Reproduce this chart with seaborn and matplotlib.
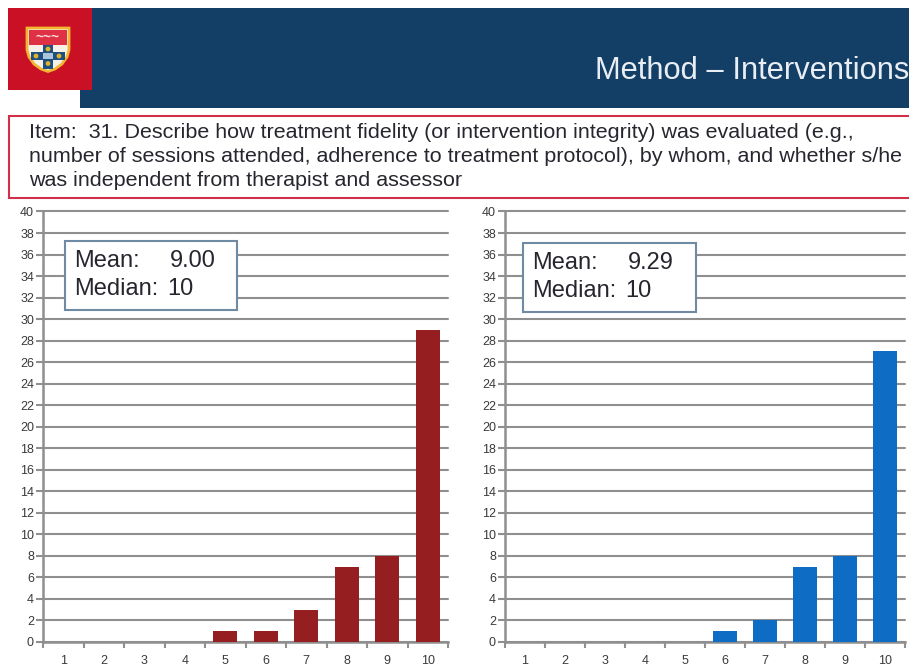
"""
Method - Interventions slide: two score histograms under a header banner
"""

import matplotlib
matplotlib.use('Agg')
import matplotlib.pyplot as plt
import pandas as pd
import seaborn as sns
from matplotlib.patches import Circle, Polygon, Rectangle

scores = [1, 2, 3, 4, 5, 6, 7, 8, 9, 10]
counts_left = [0, 0, 0, 0, 1, 1, 3, 7, 8, 29]
counts_right = [0, 0, 0, 0, 0, 1, 2, 7, 8, 27]
y_ticks = list(range(0, 41, 2))

title = 'Method – Interventions'
item_lines = [
    'Item:  31. Describe how treatment fidelity (or intervention integrity) was evaluated (e.g.,',
    'number of sessions attended, adherence to treatment protocol), by whom, and whether s/he',
    'was independent from therapist and assessor',
]
stats_left = ('9.00', '10')
stats_right = ('9.29', '10')

W, H = 909, 668
GREY = '#8f8f8f'
NAVY = '#133f66'
RED = '#c8102e'
BOX_EDGE = '#6f8aa3'
TEXT = '#26262e'

sns.set_theme(style='white')
plt.rcParams['font.family'] = ['Liberation Sans', 'DejaVu Sans']

fig = plt.figure(figsize=(W / 100, H / 100), dpi=100, facecolor='white')


def add_px_axes(x0, y0, x1, y1, **kw):
    # pixel box measured from the top left of the picture
    return fig.add_axes([x0 / W, 1 - y1 / H, (x1 - x0) / W, (y1 - y0) / H], **kw)


def draw_hist(x0, x1, counts, color):
    ax = add_px_axes(x0, 211.5, x1, 642)
    df = pd.DataFrame({'score': scores, 'count': counts})
    sns.barplot(data=df, x='score', y='count', order=scores, color=color,
                saturation=1, width=0.6, linewidth=0, ax=ax, zorder=3)
    ax.set_xlim(-0.5, 9.5)
    ax.set_ylim(0, 40)
    ax.set_xlabel('')
    ax.set_ylabel('')
    ax.set_yticks(y_ticks)
    ax.set_xticks(range(10))
    ax.set_xticks([i - 0.5 for i in range(11)], minor=True)
    ax.set_xticklabels(scores)
    ax.grid(True, axis='y', color=GREY, linewidth=1.5, zorder=0)
    for line in ax.get_ygridlines():
        line.set_clip_on(False)
    ax.set_axisbelow(True)
    ax.tick_params(axis='y', which='major', left=True, length=5, width=1.5,
                   color=GREY, labelsize=9, pad=1.5, labelcolor='#3a3a3a')
    ax.tick_params(axis='x', which='major', bottom=False, labelsize=9, pad=3,
                   labelcolor='#3a3a3a')
    ax.tick_params(axis='x', which='minor', bottom=True, length=4, width=1.5,
                   color=GREY)
    sns.despine(ax=ax)
    for side in ['left', 'bottom']:
        ax.spines[side].set_color(GREY)
        ax.spines[side].set_linewidth(1.8)
    return ax


draw_hist(43, 448, counts_left, '#951f20')
draw_hist(505, 905, counts_right, '#0f6cc4')

# overlay in picture pixels for the banner, item box and stats boxes
ov = fig.add_axes([0, 0, 1, 1], zorder=10)
ov.set_xlim(0, W)
ov.set_ylim(H, 0)
ov.axis('off')
ov.patch.set_alpha(0)

ov.add_patch(Rectangle((80, 8), W - 80, 100, facecolor=NAVY, edgecolor='none'))
ov.add_patch(Rectangle((8, 8), 84, 82, facecolor='#c91024', edgecolor='none'))
ov.text(595, 71, title, color='#e8eef4', fontsize=22.2, va='center', ha='left')

# crest
shield = [(27, 28), (69, 28), (69, 50), (67, 57), (62, 64), (55, 69), (48, 71.5),
          (41, 69), (34, 64), (29, 57), (27, 50)]
ov.add_patch(Polygon(shield, facecolor='#f5f1e8', edgecolor='#f2b632', linewidth=2))
ov.add_patch(Rectangle((29, 30), 38, 14.5, facecolor='#df3145', edgecolor='none'))
ov.add_patch(Polygon([(43, 45), (53, 45), (53, 52), (65, 52), (65, 60), (53, 60), (53, 69),
                      (43, 69), (43, 60), (31, 60), (31, 52), (43, 52)],
                     facecolor='#1f4f80', edgecolor='none'))
ov.add_patch(Rectangle((43, 53), 10, 6, facecolor='#a9c6dc', edgecolor='none'))
for cx, cy in [(48, 49), (36, 56), (59, 56), (48, 63.5)]:
    ov.add_patch(Circle((cx, cy), 2.4, facecolor='#e0b32c', edgecolor='none'))
ov.text(48, 37, '~~~', color='#f7dcd8', fontsize=10, ha='center', va='center', fontweight='bold')

ov.add_patch(Rectangle((8.5, 115.5), W + 5, 82, facecolor='white', edgecolor='#d0304a', linewidth=1.5))
for line, y in zip(item_lines, [132, 156, 180]):
    ov.text(29, y, line, fontsize=15.45, color=TEXT, va='center', ha='left')


def stats_box(x0, y0, x1, y1, stats):
    ov.add_patch(Rectangle((x0, y0), x1 - x0, y1 - y0, facecolor='white',
                           edgecolor=BOX_EDGE, linewidth=1.5))
    ov.text(x0 + 9, y0 + 20, 'Mean:', fontsize=17, color=TEXT, va='center')
    ov.text(x0 + 105, y0 + 20, stats[0], fontsize=17, color=TEXT, va='center')
    ov.text(x0 + 9, y0 + 48, 'Median:', fontsize=17, color=TEXT, va='center')
    ov.text(x0 + 102, y0 + 48, stats[1], fontsize=17, color=TEXT, va='center')


stats_box(65, 241, 237, 310, stats_left)
stats_box(523, 243, 696, 312, stats_right)

fig.savefig('out.png', dpi=100, facecolor='white')
plt.close(fig)
